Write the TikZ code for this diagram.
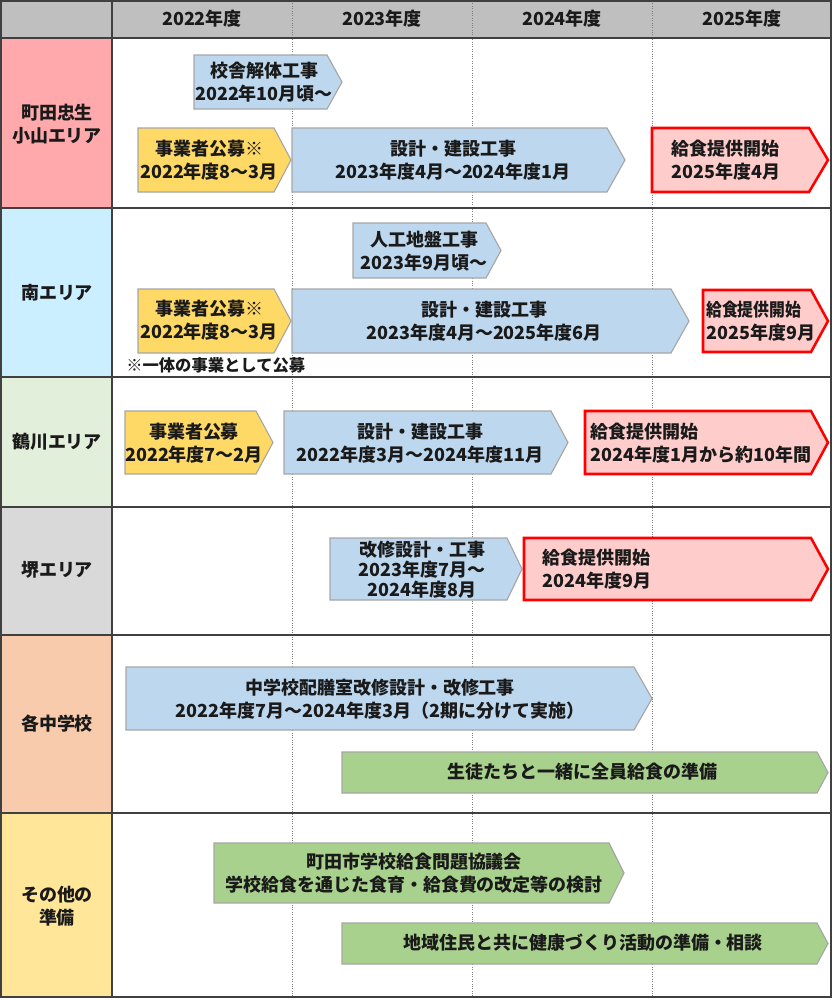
\documentclass[tikz,border=0pt]{standalone}
\usepackage{fontspec}
\usepackage{graphicx}
\setmainfont{Noto Sans CJK JP}
\usetikzlibrary{positioning}

\definecolor{ink}{HTML}{1A1A1A}
\definecolor{gridgray}{HTML}{404040}
\definecolor{headgray}{HTML}{BFBFBF}
\definecolor{areapink}{HTML}{FFA9AC}
\definecolor{areacyan}{HTML}{CCEFFF}
\definecolor{areagreen}{HTML}{E2EFDA}
\definecolor{areagray}{HTML}{D9D9D9}
\definecolor{areapeach}{HTML}{F8CBAD}
\definecolor{areayellow}{HTML}{FFE699}
\definecolor{barblue}{HTML}{BDD7EE}
\definecolor{baryellow}{HTML}{FFD966}
\definecolor{barred}{HTML}{FFCCCC}
\definecolor{bargreen}{HTML}{A9D18E}
\definecolor{barline}{HTML}{A6A6A6}

\begin{document}
\begin{tikzpicture}[
    x=0.025cm,
    y=-0.025cm,
    frame/.style={
      draw=gridgray,
      line width=1.4pt
    },
    rowline/.style={
      draw=gridgray,
      line width=1.1pt
    },
    yearline/.style={
      draw=gray,
      densely dotted,
      line width=0.7pt
    },
    head/.style={
      font=\bfseries\fontsize{12.8}{15.5}\selectfont,
      text=ink
    },
    area/.style={
      align=center,
      inner sep=0pt,
      font=\bfseries\fontsize{12.8}{16.4}\selectfont,
      text=ink
    },
    task/.style={
      align=center,
      inner sep=0pt,
      font=\bfseries\fontsize{12.8}{16.4}\selectfont,
      text=ink
    },
    tight/.style={
      task,
      font=\bfseries\fontsize{12.8}{14.2}\selectfont
    },
    launch/.style={
      task,
      align=left,
      anchor=west
    },
    note/.style={
      inner sep=0pt,
      anchor=west,
      font=\bfseries\fontsize{11.6}{14}\selectfont,
      text=ink
    },
    bluebar/.style={fill=barblue, draw=barline, line width=0.8pt},
    yellowbar/.style={fill=baryellow, draw=barline, line width=0.8pt},
    greenbar/.style={fill=bargreen, draw=barline, line width=0.8pt},
    redbar/.style={fill=barred, draw=red, line width=1.8pt}
  ]

    \useasboundingbox (0,0) rectangle (834,1000);

    % --- Header and area cells
    \fill[headgray] (1,1) rectangle (831,38);
    \fill[areapink] (1,38) rectangle (112,208);
    \fill[areacyan] (1,208) rectangle (112,377);
    \fill[areagreen] (1,377) rectangle (112,507);
    \fill[areagray] (1,507) rectangle (112,635);
    \fill[areapeach] (1,635) rectangle (112,813);
    \fill[areayellow] (1,813) rectangle (112,997);

    % --- Year separators
    \foreach \xx in {292,472,652}
      \draw[yearline] (\xx,1) -- (\xx,997);

    % --- Rows
    \foreach \yy in {38,208,377,507,635,813}
      \draw[rowline] (1,\yy) -- (831,\yy);
    \draw[rowline] (112,1) -- (112,997);
    \draw[frame] (1,1) rectangle (831,997);

    % --- Header
    \node[head] (y2022) at (202,19) {2022年度};
    \node[head] (y2023) at (382,19) {2023年度};
    \node[head] (y2024) at (562,19) {2024年度};
    \node[head] (y2025) at (742,19) {2025年度};

    % --- Area labels
    \node[area] (machida) at (57,124) {町田忠生\\小山エリア};
    \node[area] (minami) at (57,293) {南エリア};
    \node[area] (tsurukawa) at (57,442) {鶴川エリア};
    \node[area] (sakai) at (57,570) {堺エリア};
    \node[area] (chugaku) at (57,724) {各中学校};
    \node[area] (sonota) at (57,906) {その他の\\準備};

    % --- Machida Chusei / Oyama
    \draw[bluebar] (194,55) -- (327,55) -- (342,82) -- (327,109) -- (194,109) -- cycle;
    \node[task] (kaitai) at (264,82) {校舎解体工事\\2022年10月頃～};
    \draw[yellowbar] (138,128) -- (274,128) -- (291,160) -- (274,192) -- (138,192) -- cycle;
    \node[task] (koubo1) at (209,160) {事業者公募※\\2022年度8～3月};
    \draw[bluebar] (292,128) -- (607,128) -- (625,160) -- (607,192) -- (292,192) -- cycle;
    \node[task] (kensetsu1) at (453,160) {設計・建設工事\\2023年度4月～2024年度1月};
    \draw[redbar] (652,128) -- (809,128) -- (828,160) -- (809,192) -- (652,192) -- cycle;
    \node[launch] (kaishi1) at (671,160) {給食提供開始\\2025年度4月};

    % --- Minami
    \draw[bluebar] (353,223) -- (486,223) -- (501,250.5) -- (486,278) -- (353,278) -- cycle;
    \node[task] (jiban) at (424,251) {人工地盤工事\\2023年9月頃～};
    \draw[yellowbar] (138,289) -- (274,289) -- (291,321) -- (274,353) -- (138,353) -- cycle;
    \node[task] (koubo2) at (209,320) {事業者公募※\\2022年度8～3月};
    \draw[bluebar] (292,289) -- (671,289) -- (689,321) -- (671,353) -- (292,353) -- cycle;
    \node[task] (kensetsu2) at (484,321) {設計・建設工事\\2023年度4月～2025年度6月};
    \draw[redbar] (703,290) -- (811,290) -- (828,321) -- (811,352) -- (703,352) -- cycle;
    \node[launch] (kaishi2) at (706,321) {\scalebox{0.88}[1]{給食提供開始}\\2025年度9月};
    \node[note] (ittai) at (126,365) {※一体の事業として公募};

    % --- Tsurukawa
    \draw[yellowbar] (125,411) -- (256,411) -- (273,442.5) -- (256,474) -- (125,474) -- cycle;
    \node[task] (koubo3) at (194,443) {事業者公募\\2022年度7～2月};
    \draw[bluebar] (284,411) -- (551,411) -- (568,442.5) -- (551,474) -- (284,474) -- cycle;
    \node[task] (kensetsu3) at (420,443) {設計・建設工事\\2022年度3月～2024年度11月};
    \draw[redbar] (585,411) -- (811,411) -- (828,442.5) -- (811,474) -- (585,474) -- cycle;
    \node[launch] (kaishi3) at (590,443) {給食提供開始\\2024年度1月から約10年間};

    % --- Sakai
    \draw[bluebar] (330,538) -- (507,538) -- (522,569) -- (507,600) -- (330,600) -- cycle;
    \node[tight] (kaishu) at (422,570) {改修設計・工事\\2023年度7月～\\2024年度8月};
    \draw[redbar] (524,538) -- (811,538) -- (828,569) -- (811,600) -- (524,600) -- cycle;
    \node[launch] (kaishi4) at (542,569) {給食提供開始\\2024年度9月};

    % --- Junior high schools
    \draw[bluebar] (126,667) -- (634,667) -- (652,698.5) -- (634,730) -- (126,730) -- cycle;
    \node[task] (haizen) at (380,699) {中学校配膳室改修設計・改修工事\\2022年度7月～2024年度3月（2期に分けて実施）};
    \draw[greenbar] (342,752) -- (817,752) -- (828,772.5) -- (817,793) -- (342,793) -- cycle;
    \node[task] (zenin) at (582,772) {生徒たちと一緒に全員給食の準備};

    % --- Other preparations
    \draw[greenbar] (214,843) -- (609,843) -- (624,873) -- (609,903) -- (214,903) -- cycle;
    \node[task] (kyougikai) at (414,873) {町田市学校給食問題協議会\\学校給食を通じた食育・給食費の改定等の検討};
    \draw[greenbar] (342,923) -- (817,923) -- (828,943.5) -- (817,964) -- (342,964) -- cycle;
    \node[task] (chiiki) at (583,943) {地域住民と共に健康づくり活動の準備・相談};

  \end{tikzpicture}
\end{document}
